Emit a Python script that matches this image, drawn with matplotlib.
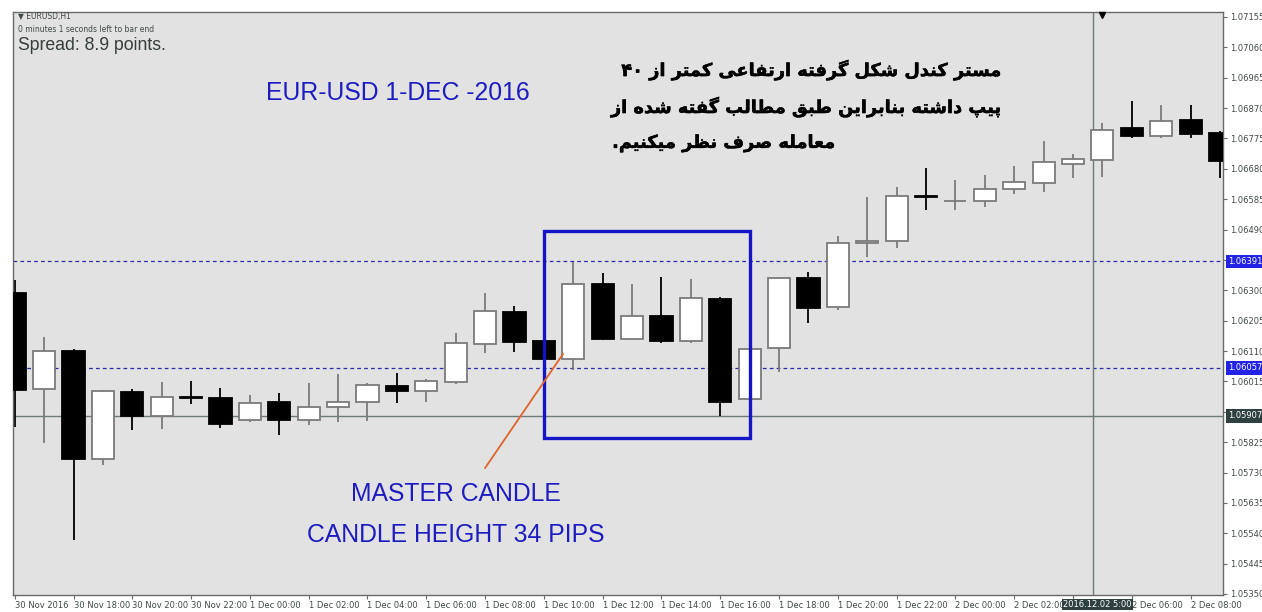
import re
import matplotlib
matplotlib.use("Agg")
import matplotlib.pyplot as plt
import matplotlib.transforms as mtransforms
import matplotlib.patheffects as pe
from matplotlib.patches import Rectangle

# ---------------- data ----------------
hours = list(range(42))
opens = [1.06292, 1.05991, 1.06111, 1.05771, 1.05983, 1.05908, 1.05965, 1.05962,
         1.05893, 1.05951, 1.05895, 1.05936, 1.05950, 1.06000, 1.05984, 1.06013,
         1.06131, 1.06232, 1.06140, 1.06085, 1.06319, 1.06147, 1.06221, 1.06142,
         1.06273, 1.05959, 1.06119, 1.06339, 1.06249, 1.06447, 1.06453, 1.06595,
         1.06579, 1.06580, 1.06616, 1.06635, 1.06695, 1.06707, 1.06807, 1.06782,
         1.06832, 1.06791]
highs = [1.06332, 1.06155, 1.06116, 1.05988, 1.05991, 1.06014, 1.06017, 1.05993,
         1.05972, 1.05978, 1.06009, 1.06037, 1.06009, 1.06040, 1.06022, 1.06167,
         1.06291, 1.06251, 1.06151, 1.06390, 1.06353, 1.06320, 1.06343, 1.06334,
         1.06278, 1.06119, 1.06341, 1.06358, 1.06471, 1.06591, 1.06624, 1.06683,
         1.06645, 1.06660, 1.06689, 1.06766, 1.06726, 1.06824, 1.06892, 1.06879,
         1.06879, 1.06799]
lows = [1.05872, 1.05821, 1.05519, 1.05754, 1.05863, 1.05866, 1.05943, 1.05870,
        1.05887, 1.05847, 1.05878, 1.05887, 1.05892, 1.05948, 1.05950, 1.06006,
        1.06103, 1.06107, 1.06079, 1.06051, 1.06145, 1.06145, 1.06136, 1.06136,
        1.05908, 1.05957, 1.06045, 1.06197, 1.06238, 1.06405, 1.06432, 1.06551,
        1.06551, 1.06562, 1.06600, 1.06608, 1.06651, 1.06655, 1.06777, 1.06776,
        1.06776, 1.06650]
closes = [1.05988, 1.06111, 1.05771, 1.05985, 1.05908, 1.05965, 1.05963, 1.05881,
          1.05947, 1.05895, 1.05934, 1.05951, 1.06003, 1.05984, 1.06016, 1.06134,
          1.06235, 1.06139, 1.06085, 1.06319, 1.06148, 1.06221, 1.06142, 1.06275,
          1.05950, 1.06117, 1.06338, 1.06246, 1.06448, 1.06454, 1.06595, 1.06593,
          1.06579, 1.06618, 1.06639, 1.06701, 1.06710, 1.06802, 1.06782, 1.06829,
          1.06790, 1.06705]

time_tick_hours = list(range(0, 41, 2))
# "2 Dec 04:00" is hidden under the crosshair time label in the reference
time_tick_labels = ["30 Nov 2016", "30 Nov 18:00", "30 Nov 20:00", "30 Nov 22:00",
                    "1 Dec 00:00", "1 Dec 02:00", "1 Dec 04:00", "1 Dec 06:00",
                    "1 Dec 08:00", "1 Dec 10:00", "1 Dec 12:00", "1 Dec 14:00",
                    "1 Dec 16:00", "1 Dec 18:00", "1 Dec 20:00", "1 Dec 22:00",
                    "2 Dec 00:00", "2 Dec 02:00", "", "2 Dec 06:00",
                    "2 Dec 08:00"]
price_ticks = [1.07155, 1.07060, 1.06965, 1.06870, 1.06775, 1.06680, 1.06585,
               1.06490, 1.06395, 1.06300, 1.06205, 1.06110, 1.06015, 1.05920,
               1.05825, 1.05730, 1.05635, 1.05540, 1.05445, 1.05350]
# labels hidden under the highlighted price boxes in the reference
price_ticks_hidden = [1.06395, 1.05920]
level_lines = [1.06391, 1.06057]
crosshair_price = 1.05907
crosshair_hour = 36.68
crosshair_label = "2016.12.02 5:00"

master_box = (18.0, 25.0, 1.058395, 1.064855)   # hour0, hour1, price0, price1

persian_lines = ["مستر کندل شکل گرفته ارتفاعی کمتر از ۴۰",
                 "پیپ داشته بنابراین طبق مطالب گفته شده از",
                 "معامله صرف نظر میکنیم."]

# ---------------- Persian shaping (presentation forms + RTL order) ----------------
FORMS = {
    '\u0627': ('\uFE8D', '\uFE8E', None, None),
    '\u0622': ('\uFE81', '\uFE82', None, None),
    '\u0628': ('\uFE8F', '\uFE90', '\uFE91', '\uFE92'),
    '\u067E': ('\uFB56', '\uFB57', '\uFB58', '\uFB59'),
    '\u062A': ('\uFE95', '\uFE96', '\uFE97', '\uFE98'),
    '\u062B': ('\uFE99', '\uFE9A', '\uFE9B', '\uFE9C'),
    '\u062C': ('\uFE9D', '\uFE9E', '\uFE9F', '\uFEA0'),
    '\u0686': ('\uFB7A', '\uFB7B', '\uFB7C', '\uFB7D'),
    '\u062D': ('\uFEA1', '\uFEA2', '\uFEA3', '\uFEA4'),
    '\u062E': ('\uFEA5', '\uFEA6', '\uFEA7', '\uFEA8'),
    '\u062F': ('\uFEA9', '\uFEAA', None, None),
    '\u0630': ('\uFEAB', '\uFEAC', None, None),
    '\u0631': ('\uFEAD', '\uFEAE', None, None),
    '\u0632': ('\uFEAF', '\uFEB0', None, None),
    '\u0698': ('\uFB8A', '\uFB8B', None, None),
    '\u0633': ('\uFEB1', '\uFEB2', '\uFEB3', '\uFEB4'),
    '\u0634': ('\uFEB5', '\uFEB6', '\uFEB7', '\uFEB8'),
    '\u0635': ('\uFEB9', '\uFEBA', '\uFEBB', '\uFEBC'),
    '\u0636': ('\uFEBD', '\uFEBE', '\uFEBF', '\uFEC0'),
    '\u0637': ('\uFEC1', '\uFEC2', '\uFEC3', '\uFEC4'),
    '\u0638': ('\uFEC5', '\uFEC6', '\uFEC7', '\uFEC8'),
    '\u0639': ('\uFEC9', '\uFECA', '\uFECB', '\uFECC'),
    '\u063A': ('\uFECD', '\uFECE', '\uFECF', '\uFED0'),
    '\u0641': ('\uFED1', '\uFED2', '\uFED3', '\uFED4'),
    '\u0642': ('\uFED5', '\uFED6', '\uFED7', '\uFED8'),
    '\u06A9': ('\uFB8E', '\uFB8F', '\uFB90', '\uFB91'),
    '\u06AF': ('\uFB92', '\uFB93', '\uFB94', '\uFB95'),
    '\u0644': ('\uFEDD', '\uFEDE', '\uFEDF', '\uFEE0'),
    '\u0645': ('\uFEE1', '\uFEE2', '\uFEE3', '\uFEE4'),
    '\u0646': ('\uFEE5', '\uFEE6', '\uFEE7', '\uFEE8'),
    '\u0648': ('\uFEED', '\uFEEE', None, None),
    '\u0647': ('\uFEE9', '\uFEEA', '\uFEEB', '\uFEEC'),
    '\u06CC': ('\uFBFC', '\uFBFD', '\uFBFE', '\uFBFF'),
}


def shape_rtl(text):
    out = []
    n = len(text)
    for i, ch in enumerate(text):
        f = FORMS.get(ch)
        if f is None:
            out.append(ch)
            continue
        prev = text[i - 1] if i > 0 else ''
        nxt = text[i + 1] if i + 1 < n else ''
        jp = prev in FORMS and FORMS[prev][2] is not None
        jn = f[2] is not None and nxt in FORMS
        if jp and jn:
            out.append(f[3])
        elif jp:
            out.append(f[1])
        elif jn:
            out.append(f[2])
        else:
            out.append(f[0])
    rev = ''.join(out)[::-1]
    return re.sub(r'[\u06F0-\u06F9\u0660-\u06690-9]+', lambda m: m.group(0)[::-1], rev)


# ---------------- figure ----------------
W, H = 1262, 612
fig = plt.figure(figsize=(W / 100, H / 100), dpi=100, facecolor='white')
L_, R_, T_, B_ = 13, 1223, 12, 595
ax = fig.add_axes([L_ / W, (H - B_) / H, (R_ - L_) / W, (B_ - T_) / H])
ax.set_facecolor('#e2e2e2')

ax.set_xlim(-0.058, 41.1)
ax.set_ylim(1.053468, 1.071706)

for s in ax.spines.values():
    s.set_color('#6a6a6a')
    s.set_linewidth(1.0)

# candles
up_col = '#7a7a7a'
bw = 0.75
for h, o, hi, lo, c in zip(hours, opens, highs, lows, closes):
    bull = c >= o
    wc = up_col if bull else 'black'
    ax.vlines(h, lo, hi, color=wc, linewidth=1.3, zorder=2)
    ax.bar(h, abs(c - o), bottom=min(o, c), width=bw,
           facecolor='white' if bull else 'black',
           edgecolor=up_col if bull else 'black', linewidth=1.3, zorder=3)

# level lines
for lv in level_lines:
    ax.axhline(lv, color='#2a2aa8', linewidth=0.9, linestyle=(0, (3, 2.5)), zorder=1.5)

# crosshair
ax.axhline(crosshair_price, color='#6e7a7a', linewidth=1.0, zorder=1.6)
ax.axvline(crosshair_hour, color='#6e7a7a', linewidth=1.0, zorder=1.6)
tb = mtransforms.blended_transform_factory(ax.transData, ax.transAxes)
ax.plot([37], [0.9955], marker='v', color='black', markersize=5,
        transform=tb, clip_on=False, zorder=6)

# master candle box
x0, x1, y0, y1 = master_box
ax.add_patch(Rectangle((x0, y0), x1 - x0, y1 - y0, fill=False,
                       edgecolor='#1515c8', linewidth=2.4, zorder=5))
# orange pointer
ax.plot([16.0, 18.65], [1.057441, 1.061008], color='#e0642a', linewidth=1.3, zorder=5)

# axes ticks
ax.yaxis.tick_right()
ax.set_yticks(price_ticks)
ax.set_yticklabels(["" if p in price_ticks_hidden else f"{p:.5f}" for p in price_ticks])
ax.tick_params(axis='y', direction='out', length=3, width=0.8, colors='#6a6a6a',
               labelcolor='#404848', labelsize=6, pad=2)
ax.set_xticks(time_tick_hours)
ax.set_xticklabels(time_tick_labels, ha='left')
ax.tick_params(axis='x', direction='out', length=3, width=0.8, colors='#6a6a6a',
               labelcolor='#404848', labelsize=6, pad=1.5)
for lbl in ax.get_xticklabels():
    lbl.set_horizontalalignment('left')

# highlighted price labels
ta = mtransforms.blended_transform_factory(ax.transAxes, ax.transData)
xlab = 1.0 + 5 / (R_ - L_)
for lv in level_lines:
    ax.text(xlab, lv, f"{lv:.5f}", transform=ta, ha='left', va='center', fontsize=6,
            color='white', clip_on=False, zorder=10,
            bbox=dict(boxstyle='square,pad=0.25', facecolor='#2323e6', edgecolor='none'))
ax.text(xlab, crosshair_price, f"{crosshair_price:.5f}", transform=ta, ha='left',
        va='center', fontsize=6, color='white', clip_on=False, zorder=10,
        bbox=dict(boxstyle='square,pad=0.25', facecolor='#2f4040', edgecolor='none'))
ax.text(35.65, -(604.5 - B_) / (B_ - T_), crosshair_label, transform=tb, ha='left',
        va='center', fontsize=6, color='white', clip_on=False, zorder=10,
        bbox=dict(boxstyle='square,pad=0.15', facecolor='#2f4040', edgecolor='none'))

# top-left info
tl = ax.transAxes
fam = ['Liberation Sans', 'DejaVu Sans']
AH = B_ - T_
ax.text(5 / 1210, 1 - 5 / AH, "\u25BC EURUSD,H1", transform=tl, fontsize=5.5,
        color='#404848', ha='left', va='center', family=['DejaVu Sans'])
ax.text(5 / 1210, 1 - 18 / AH, "0 minutes 1 seconds left to bar end", transform=tl,
        fontsize=5.5, color='#404848', ha='left', va='center', family=['DejaVu Sans'])
ax.text(5 / 1210, 1 - 33 / AH, "Spread: 8.9 points.", transform=tl, fontsize=12.7,
        color='#353d3d', ha='left', va='center', family=fam)

# annotations
blue = '#1c1cc0'
ax.text(13.02, 1.06917, "EUR-USD 1-DEC -2016", fontsize=17.8, color=blue,
        ha='center', va='center', family=fam)
ax.text(15.01, 1.056628, "MASTER CANDLE", fontsize=17.8, color=blue,
        ha='center', va='center', family=fam)
ax.text(15.01, 1.055345, "CANDLE HEIGHT 34 PIPS", fontsize=17.8, color=blue,
        ha='center', va='center', family=fam)

# Persian note: lines 1-2 span the block width, line 3 starts at the block's left edge
persian_pos = [(33.58, 1.069892, 'right'), (33.58, 1.068735, 'right'),
               (20.32, 1.067608, 'left')]
for line, (xv, yv, ha) in zip(persian_lines, persian_pos):
    ax.text(xv, yv, shape_rtl(line), fontsize=12.8, fontweight='bold', color='black',
            ha=ha, va='center', family=['DejaVu Sans'],
            path_effects=[pe.withStroke(linewidth=0.35, foreground='black')])

fig.savefig('out.png', dpi=100, facecolor='white')
